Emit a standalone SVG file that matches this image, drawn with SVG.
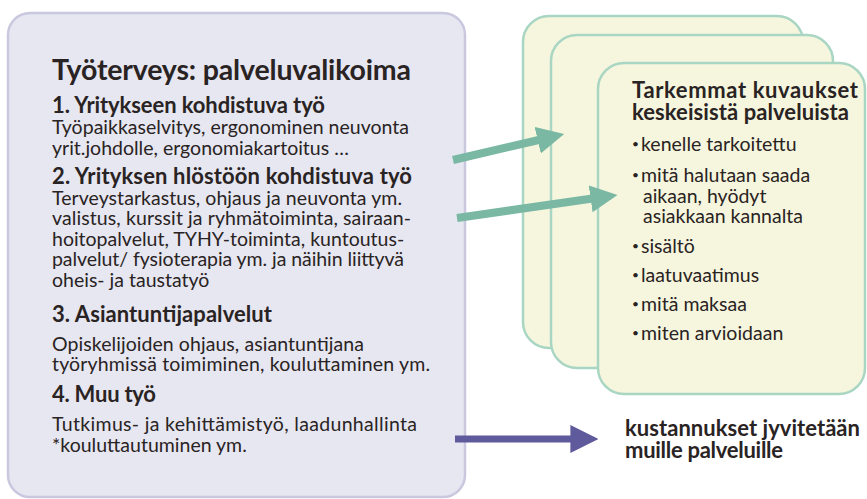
<svg xmlns="http://www.w3.org/2000/svg" width="867" height="499" viewBox="0 0 867 499">
  <style>
    text { font-family: Lato, "Open Sans", "Liberation Sans", sans-serif; fill: #2a2323; }
    .title { font-size: 28.5px; font-weight: 700; }
    .head { font-size: 22px; font-weight: 700; }
    .body { font-size: 19.5px; }
    .dot { font-size: 12px; }
    .cardhead { font-size: 22px; font-weight: 700; }
    .note { font-size: 22px; font-weight: 700; }
    .card { fill: #f6f6de; stroke: #a9d5c3; stroke-width: 2.5; }
    .panel { fill: #e6e7f1; stroke: #c9c8df; stroke-width: 2.5; }
  </style>
  <defs>
    <marker id="tealHead" viewBox="0 0 10 10" refX="2" refY="5" markerWidth="3.4" markerHeight="3.4" markerUnits="strokeWidth" orient="auto">
      <path d="M0,0 L10,5 L0,10 z" fill="#7ab8a4"/>
    </marker>
    <marker id="purpleHead" viewBox="0 0 10 10" refX="2" refY="5" markerWidth="4" markerHeight="4" markerUnits="strokeWidth" orient="auto">
      <path d="M0,0 L10,5 L0,10 z" fill="#5e5a9b"/>
    </marker>
  </defs>

  <!-- left panel: service catalogue -->
  <g id="catalogue">
    <rect class="panel" x="8" y="13" width="457" height="484" rx="22" ry="22"/>
    <text class="title" x="52" y="80" textLength="359">Työterveys: palveluvalikoima</text>
    <text class="head" x="52" y="113" textLength="273">1. Yritykseen kohdistuva työ</text>
    <text class="body" x="52" y="134" textLength="357">Työpaikkaselvitys, ergonominen neuvonta</text>
    <text class="body" x="52" y="155">yrit.johdolle, ergonomiakartoitus …</text>
    <text class="head" x="52" y="184" textLength="360">2. Yrityksen hlöstöön kohdistuva työ</text>
    <text class="body" x="52" y="205" textLength="350">Terveystarkastus, ohjaus ja neuvonta ym.</text>
    <text class="body" x="52" y="225" textLength="359">valistus, kurssit ja ryhmätoiminta, sairaan-</text>
    <text class="body" x="52" y="246">hoitopalvelut, TYHY-toiminta, kuntoutus-</text>
    <text class="body" x="52" y="266" textLength="352">palvelut/ fysioterapia ym. ja näihin liittyvä</text>
    <text class="body" x="52" y="287">oheis- ja taustatyö</text>
    <text class="head" x="52" y="322" textLength="220">3. Asiantuntijapalvelut</text>
    <text class="body" x="52" y="351" textLength="312">Opiskelijoiden ohjaus, asiantuntijana</text>
    <text class="body" x="52" y="371" textLength="378">työryhmissä toimiminen, kouluttaminen ym.</text>
    <text class="head" x="52" y="402" textLength="104">4. Muu työ</text>
    <text class="body" x="52" y="431" textLength="365">Tutkimus- ja kehittämistyö,  laadunhallinta</text>
    <text class="body" x="52" y="452">*kouluttautuminen ym.</text>
  </g>

  <!-- stacked description cards -->
  <g id="card-back">
    <rect class="card" x="523" y="16" width="280" height="332" rx="26" ry="26"/>
  </g>
  <g id="card-middle">
    <rect class="card" x="551" y="35" width="282" height="333" rx="26" ry="26"/>
  </g>
  <g id="card-front">
    <rect class="card" x="598" y="63" width="267" height="331" rx="26" ry="26"/>
    <text class="cardhead" x="632" y="98" textLength="226">Tarkemmat kuvaukset</text>
    <text class="cardhead" x="632" y="120" textLength="217">keskeisistä palveluista</text>
    <text class="body" y="151"><tspan class="dot" x="632" dy="-3">•</tspan><tspan x="641" dy="3">kenelle tarkoitettu</tspan></text>
    <text class="body" y="182"><tspan class="dot" x="632" dy="-3">•</tspan><tspan x="641" dy="3">mitä halutaan saada</tspan></text>
    <text class="body" x="643" y="203">aikaan, hyödyt</text>
    <text class="body" x="643" y="223" textLength="160">asiakkaan kannalta</text>
    <text class="body" y="253"><tspan class="dot" x="632" dy="-3">•</tspan><tspan x="641" dy="3">sisältö</tspan></text>
    <text class="body" y="282"><tspan class="dot" x="632" dy="-3">•</tspan><tspan x="641" dy="3">laatuvaatimus</tspan></text>
    <text class="body" y="311"><tspan class="dot" x="632" dy="-3">•</tspan><tspan x="641" dy="3">mitä maksaa</tspan></text>
    <text class="body" y="340"><tspan class="dot" x="632" dy="-3">•</tspan><tspan x="641" dy="3">miten arvioidaan</tspan></text>
  </g>

  <!-- cost allocation note -->
  <g id="cost-note">
    <text class="note" x="625" y="436" textLength="235">kustannukset jyvitetään</text>
    <text class="note" x="625" y="458" textLength="158">muille palveluille</text>
  </g>

  <!-- connectors -->
  <g id="connectors" fill="none">
    <line x1="453" y1="160" x2="543" y2="139" stroke="#7ab8a4" stroke-width="8" marker-end="url(#tealHead)"/>
    <line x1="457" y1="218" x2="596" y2="198" stroke="#7ab8a4" stroke-width="8" marker-end="url(#tealHead)"/>
    <line x1="455" y1="439" x2="576" y2="439" stroke="#5e5a9b" stroke-width="7" marker-end="url(#purpleHead)"/>
  </g>
</svg>
